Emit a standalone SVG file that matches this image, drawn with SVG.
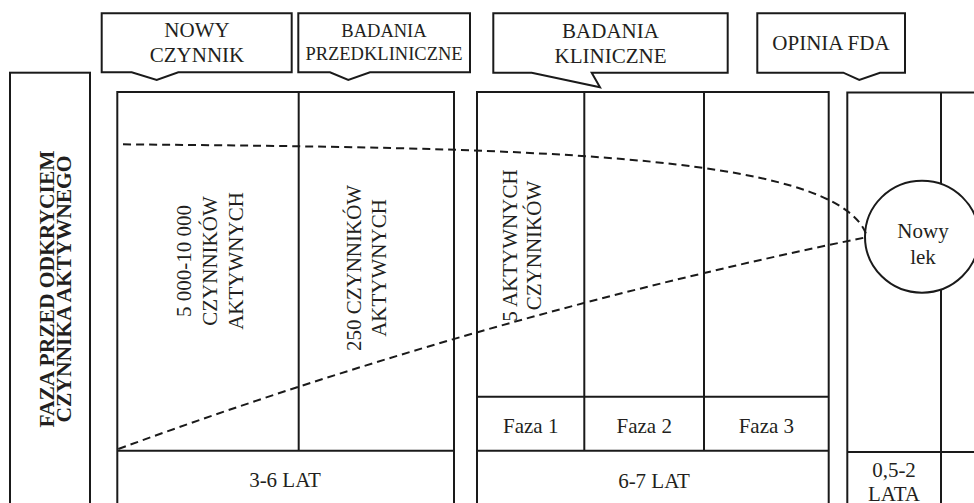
<svg xmlns="http://www.w3.org/2000/svg" width="974" height="503" viewBox="0 0 974 503">
<style>
.ln{fill:none;stroke:#1a1a1a;stroke-width:2}
.box{fill:#fff;stroke:#1a1a1a;stroke-width:2}
.t{font-family:"Liberation Serif","Times New Roman",serif;font-size:21px;fill:#231f20;text-anchor:middle}
.s{font-size:18.5px}
.b{font-weight:bold;font-size:21.5px}
.dash{fill:none;stroke:#1a1a1a;stroke-width:2;stroke-dasharray:8 5}
</style>
<rect width="974" height="503" fill="#fff"/>

<g id="callout-nowy-czynnik">
<path class="box" d="M101.7,13.3 H291.7 V72.3 H178.3 L156.7,80 L131.7,72.3 H101.7 Z"/>
<text class="t" x="197" y="36.7">NOWY</text>
<text class="t" x="197" y="62.3">CZYNNIK</text>
</g>
<g id="callout-badania-przedkliniczne">
<path class="box" d="M298.3,13.3 H470 V72.3 H370 L348.3,80 L330,72.3 H298.3 Z"/>
<text class="t s" x="384" y="37.3">BADANIA</text>
<text class="t s" x="384" y="60">PRZEDKLINICZNE</text>
</g>
<g id="callout-badania-kliniczne">
<path class="box" d="M493.3,13.3 H727.7 V72.7 H591.7 L600,87.3 L531.7,72.7 H493.3 Z"/>
<text class="t" x="610.5" y="38.3">BADANIA</text>
<text class="t" x="610.5" y="63.3">KLINICZNE</text>
</g>
<g id="callout-opinia-fda">
<path class="box" d="M757.3,13.3 H905 V72.7 H880 L859.3,80 L843.3,72.7 H757.3 Z"/>
<text class="t" x="831" y="50">OPINIA FDA</text>
</g>

<g id="faza-przed">
<rect class="ln" x="10" y="72.7" width="80" height="445"/>
<text class="t b" transform="translate(54,289) rotate(-90)">FAZA PRZED ODKRYCIEM</text>
<text class="t b" transform="translate(70.5,289) rotate(-90)">CZYNNIKA AKTYWNEGO</text>
</g>

<g id="table-przedkliniczne">
<rect class="ln" x="117.3" y="92" width="336.7" height="425"/>
<line class="ln" x1="298.7" y1="92" x2="298.7" y2="450.7"/>
<line class="ln" x1="117.3" y1="450.7" x2="454" y2="450.7"/>
<text class="t" transform="translate(190.7,261) rotate(-90)">5 000-10 000</text>
<text class="t" transform="translate(216.7,261) rotate(-90)">CZYNNIKÓW</text>
<text class="t" transform="translate(242.7,261) rotate(-90)">AKTYWNYCH</text>
<text class="t" transform="translate(361,268) rotate(-90)">250 CZYNNIKÓW</text>
<text class="t" transform="translate(386,268) rotate(-90)">AKTYWNYCH</text>
<text class="t" x="285" y="486.7">3-6 LAT</text>
</g>

<g id="table-kliniczne">
<rect class="ln" x="477" y="92" width="351.7" height="425"/>
<line class="ln" x1="584.3" y1="92" x2="584.3" y2="450.7"/>
<line class="ln" x1="704" y1="92" x2="704" y2="450.7"/>
<line class="ln" x1="477" y1="396.7" x2="828.7" y2="396.7"/>
<line class="ln" x1="477" y1="450.7" x2="828.7" y2="450.7"/>
<text class="t" transform="translate(516.7,245.5) rotate(-90)">5 AKTYWNYCH</text>
<text class="t" transform="translate(540.5,245.5) rotate(-90)">CZYNNIKÓW</text>
<text class="t" x="530.7" y="433.3">Faza 1</text>
<text class="t" x="644.2" y="433.3">Faza 2</text>
<text class="t" x="766.4" y="433.3">Faza 3</text>
<text class="t" x="654" y="488.3">6-7 LAT</text>
</g>

<g id="table-fda">
<rect class="ln" x="847.3" y="92.5" width="150" height="425"/>
<line class="ln" x1="941" y1="92.5" x2="941" y2="517"/>
<line class="ln" x1="847.3" y1="452" x2="974" y2="452"/>
<text class="t" x="894" y="476.7">0,5-2</text>
<text class="t" x="894" y="500.7">LATA</text>
</g>

<g id="nowy-lek">
<ellipse class="box" cx="922" cy="236.7" rx="57" ry="56"/>
<text class="t" x="923" y="238.3">Nowy</text>
<text class="t" x="923" y="264.3">lek</text>
</g>

<g id="connectors">
<path class="dash" d="M123,144.3 C500,148 840,150 867,236.5"/>
<path class="dash" d="M118.3,449 Q485,315 866,237.3"/>
</g>
</svg>
